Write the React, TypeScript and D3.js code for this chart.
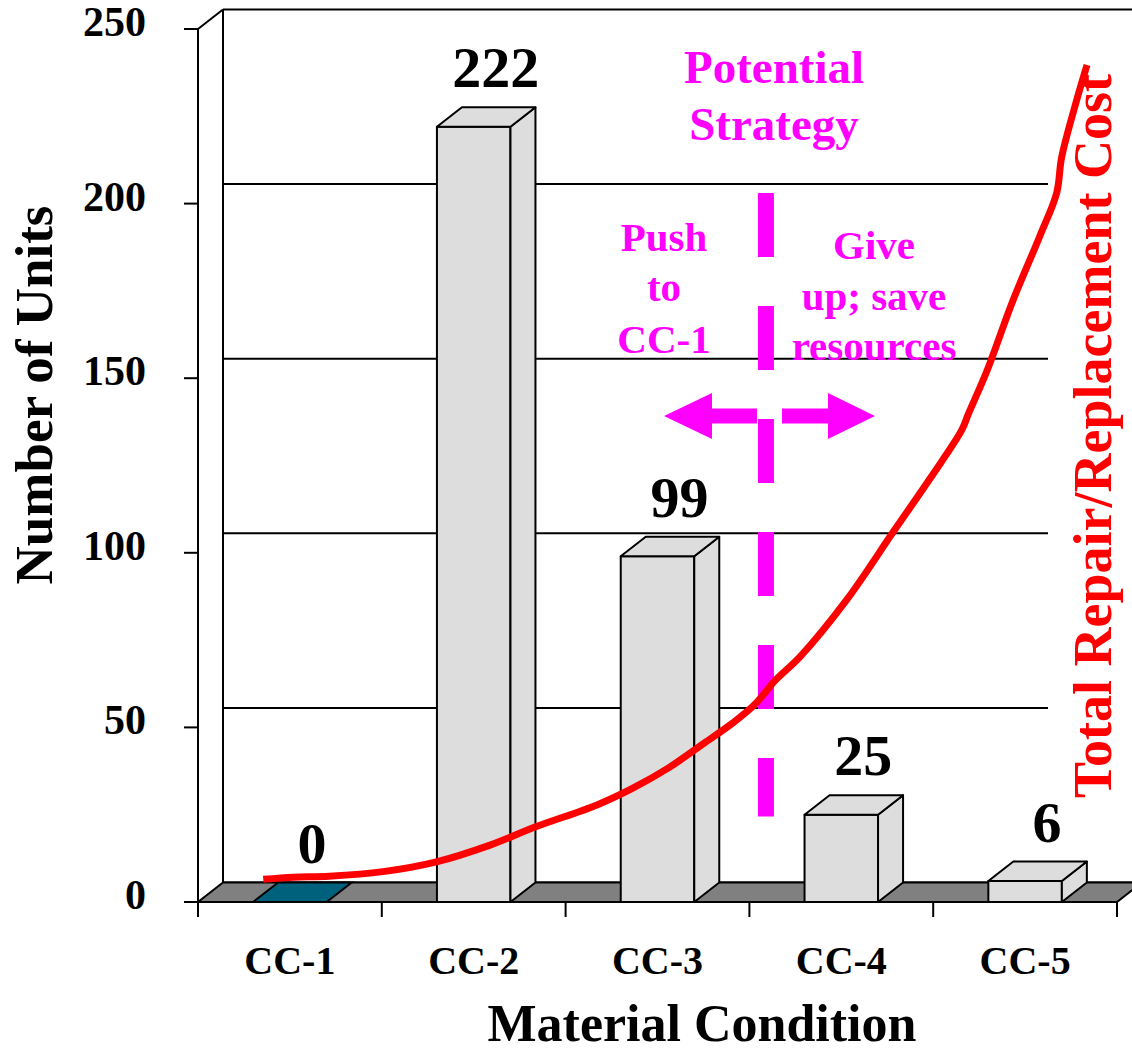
import React from "react";
import * as d3 from "d3";

const categories = ["CC-1", "CC-2", "CC-3", "CC-4", "CC-5"];
const units = [0, 222, 99, 25, 6];
const yTicks = [0, 50, 100, 150, 200, 250];
// Total repair/replacement cost curve (x in category units, CC-1 = 1; y in axis units)
const costX = [0.855, 1.02, 1.214, 1.506, 1.797, 2.089, 2.341, 2.671, 2.866, 3.06, 3.254, 3.41, 3.526, 3.643, 3.775, 4.029, 4.283, 4.482, 4.655, 4.691, 4.791, 4.935, 5.081, 5.172, 5.199, 5.281, 5.337];
const costY = [6.5, 7.1, 7.4, 8.7, 11.5, 16.3, 21.6, 27.8, 32.6, 38.4, 45.5, 51.3, 56.4, 63.6, 70.2, 86.5, 106.0, 121.2, 135.1, 139.7, 151.9, 172.4, 190.8, 203.1, 213.3, 229.7, 239.7];

const W = 1132;
const H = 1055;
const X0 = 198;
const X1 = 1117;
const DX = 25;
const DY = 19.5;
const FONT = "'Liberation Serif', 'Times New Roman', serif";
const MAG = "#FF00FF";

export default function App() {
  const y = d3.scaleLinear().domain([0, 250]).range([902, 29]);
  const x = d3.scaleBand().domain(categories).range([X0, X1]);
  const xi = d3.scaleLinear().domain([0.5, 5.5]).range([X0, X1]);
  const bw = x.bandwidth() * 0.4;
  const y0 = y(0);

  const line = d3
    .line<number>()
    .x((_, i) => xi(costX[i]))
    .y((_, i) => y(costY[i]))
    .curve(d3.curveCatmullRom.alpha(0.5));

  const pts = (arr: [number, number][]) => arr.map((p) => p.join(",")).join(" ");

  const divX = xi(3.59);
  const arrowY = y(139.2);

  return (
    <div style={{ position: "absolute", left: 0, top: 0, width: W, height: H, background: "#fff" }}>
      <svg width={W} height={H} style={{ display: "block" }}>
        <rect x={0} y={0} width={W} height={H} fill="#fff" />
        {/* back wall gridlines */}
        {yTicks.map((t) => (
          <line key={"g" + t} x1={X0 + DX} x2={W} y1={y(t) - DY} y2={y(t) - DY} stroke="#000" strokeWidth={2} />
        ))}
        <line x1={X0 + DX} x2={X0 + DX} y1={y(250) - DY} y2={y0 - DY} stroke="#000" strokeWidth={2} />
        {/* front axis */}
        <line x1={X0} x2={X0} y1={y(250)} y2={y0} stroke="#000" strokeWidth={2} />
        <line x1={X0} x2={X0 + DX} y1={y(250)} y2={y(250) - DY} stroke="#000" strokeWidth={2} />
        {yTicks.map((t) => (
          <g key={"t" + t}>
            <line x1={184} x2={X0} y1={y(t)} y2={y(t)} stroke="#000" strokeWidth={2} />
            <text x={146} y={y(t) + 7} textAnchor="end" fontFamily={FONT} fontWeight="bold" fontSize={42}>
              {t}
            </text>
          </g>
        ))}
        {/* floor */}
        <polygon
          points={pts([
            [X0, y0],
            [X1, y0],
            [X1 + DX, y0 - DY],
            [X0 + DX, y0 - DY],
          ])}
          fill="#808080"
          stroke="#000"
          strokeWidth={2}
        />
        {[X0, ...categories.map((c) => (x(c) as number) + x.bandwidth())].map((v, i) => (
          <line key={"xt" + i} x1={v} x2={v} y1={y0} y2={y0 + 15} stroke="#000" strokeWidth={2} />
        ))}
        {categories.map((c) => (
          <text
            key={"cl" + c}
            x={(x(c) as number) + x.bandwidth() / 2}
            y={974}
            textAnchor="middle"
            fontFamily={FONT}
            fontWeight="bold"
            fontSize={40}
          >
            {c}
          </text>
        ))}
        {/* white box behind right title */}
        <rect x={1048} y={28} width={W - 1048} height={780} fill="#fff" />
        {/* bars */}
        {categories.map((c, i) => {
          const cx = (x(c) as number) + x.bandwidth() / 2;
          const a = cx - bw / 2;
          const b = cx + bw / 2;
          const top = y(units[i]);
          if (units[i] === 0) {
            return (
              <polygon
                key={"b" + c}
                points={pts([
                  [a, y0],
                  [b, y0],
                  [b + DX, y0 - DY],
                  [a + DX, y0 - DY],
                ])}
                fill="#00617D"
                stroke="#000"
                strokeWidth={2}
              />
            );
          }
          return (
            <g key={"b" + c} stroke="#000" strokeWidth={2} fill="#DDDDDD" strokeLinejoin="round">
              <rect x={a} y={top} width={bw} height={y0 - top} />
              <polygon
                points={pts([
                  [b, top],
                  [b + DX, top - DY],
                  [b + DX, y0 - DY],
                  [b, y0],
                ])}
              />
              <polygon
                points={pts([
                  [a, top],
                  [b, top],
                  [b + DX, top - DY],
                  [a + DX, top - DY],
                ])}
              />
            </g>
          );
        })}
        {/* value labels */}
        {categories.map((c, i) => (
          <text
            key={"v" + c}
            x={(x(c) as number) + x.bandwidth() / 2 + 22}
            y={y(units[i]) - DY - 20}
            textAnchor="middle"
            fontFamily={FONT}
            fontWeight="bold"
            fontSize={58}
          >
            {units[i]}
          </text>
        ))}
        {/* strategy annotation */}
        <line
          x1={divX}
          x2={divX}
          y1={y(203)}
          y2={y(24.5)}
          stroke={MAG}
          strokeWidth={16}
          strokeDasharray="64 49"
        />
        <polygon
          points={pts([
            [664, arrowY],
            [712, arrowY - 23],
            [712, arrowY - 7.5],
            [757, arrowY - 7.5],
            [757, arrowY + 7.5],
            [712, arrowY + 7.5],
            [712, arrowY + 23],
          ])}
          fill={MAG}
        />
        <polygon
          points={pts([
            [875, arrowY],
            [828, arrowY - 23],
            [828, arrowY - 7.5],
            [782, arrowY - 7.5],
            [782, arrowY + 7.5],
            [828, arrowY + 7.5],
            [828, arrowY + 23],
          ])}
          fill={MAG}
        />
        <g fill={MAG} fontFamily={FONT} fontWeight="bold" textAnchor="middle">
          <text x={774} y={83} fontSize={47}>Potential</text>
          <text x={774} y={140} fontSize={47}>Strategy</text>
          <text x={664} y={251} fontSize={41}>Push</text>
          <text x={664} y={301} fontSize={41}>to</text>
          <text x={664} y={353} fontSize={41}>CC-1</text>
          <text x={874} y={259} fontSize={41}>Give</text>
          <text x={874} y={310} fontSize={41}>up; save</text>
          <text x={874} y={360} fontSize={41}>resources</text>
        </g>
        {/* cost curve */}
        <path d={line(costX) || ""} fill="none" stroke="#FF0000" strokeWidth={7} strokeLinecap="butt" />
        {/* axis titles */}
        <text
          transform={`translate(52,395) rotate(-90)`}
          textAnchor="middle"
          fontFamily={FONT}
          fontWeight="bold"
          fontSize={53}
        >
          Number of Units
        </text>
        <text x={702} y={1041} textAnchor="middle" fontFamily={FONT} fontWeight="bold" fontSize={52}>
          Material Condition
        </text>
        <text
          transform={`translate(1111,436) rotate(-90)`}
          textAnchor="middle"
          fontFamily={FONT}
          fontWeight="bold"
          fontSize={54}
          fill="#FF0000"
        >
          Total Repair/Replacement Cost
        </text>
      </svg>
    </div>
  );
}
